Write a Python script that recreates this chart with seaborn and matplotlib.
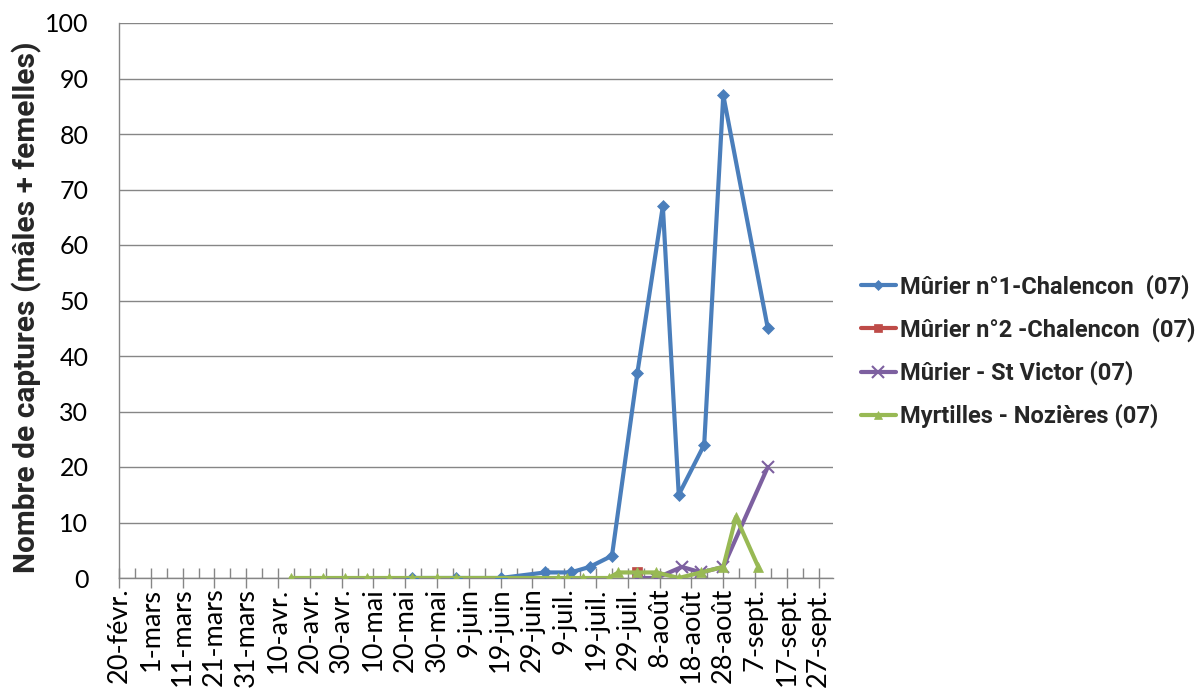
import matplotlib
matplotlib.use("Agg")
import matplotlib.pyplot as plt
import seaborn as sns
import pandas as pd
from matplotlib.lines import Line2D

# ---- data ----
series_names = [
    "Mûrier n°1-Chalencon  (07)",
    "Mûrier n°2 -Chalencon  (07)",
    "Mûrier - St Victor (07)",
    "Myrtilles - Nozières (07)",
]

murier1_dates = ["2016-05-22", "2016-06-05", "2016-06-19", "2016-07-03", "2016-07-11",
                 "2016-07-17", "2016-07-24", "2016-08-01", "2016-08-09", "2016-08-14",
                 "2016-08-22", "2016-08-28", "2016-09-11"]
murier1_values = [0, 0, 0, 1, 1, 2, 4, 37, 67, 15, 24, 87, 45]

murier2_dates = ["2016-08-01"]
murier2_values = [1]

stvictor_dates = ["2016-08-01", "2016-08-07", "2016-08-15", "2016-08-21", "2016-08-28",
                  "2016-09-11"]
stvictor_values = [0, 0, 2, 1, 2, 20]

myrtilles_dates = ["2016-04-14", "2016-04-24", "2016-05-01", "2016-05-08", "2016-05-15",
                   "2016-05-22", "2016-05-30", "2016-06-05", "2016-07-07", "2016-07-10",
                   "2016-07-15", "2016-07-23", "2016-07-26", "2016-08-01", "2016-08-07",
                   "2016-08-14", "2016-08-21", "2016-08-28", "2016-09-01", "2016-09-08"]
myrtilles_values = [0, 0, 0, 0, 0, 0, 0, 0, 0, 0, 0, 0, 1, 1, 1, 0, 1, 2, 11, 2]

x_tick_labels = ["20-févr.", "1-mars", "11-mars", "21-mars", "31-mars", "10-avr.",
                 "20-avr.", "30-avr.", "10-mai", "20-mai", "30-mai", "9-juin",
                 "19-juin", "29-juin", "9-juil.", "19-juil.", "29-juil.", "8-août",
                 "18-août", "28-août", "7-sept.", "17-sept.", "27-sept."]
y_ticks = [0, 10, 20, 30, 40, 50, 60, 70, 80, 90, 100]
y_label = "Nombre de captures (mâles + femelles)"

colors = ["#4A7EBB", "#BE4B48", "#7D60A0", "#98B954"]
markers = ["D", "s", "x", "^"]
marker_sizes = [6, 7, 9, 7]

# ---- build ----
sns.set_theme(style="white")
plt.rcParams["font.family"] = ["Lato", "DejaVu Sans"]
bold_family = ["Roboto", "DejaVu Sans"]

fig = plt.figure(figsize=(11.99, 6.97), dpi=100)
ax = fig.add_axes([119 / 1199, (697 - 578) / 697, (833 - 119) / 1199, (578 - 23) / 697])

all_series = [
    (murier1_dates, murier1_values),
    (murier2_dates, murier2_values),
    (stvictor_dates, stvictor_values),
    (myrtilles_dates, myrtilles_values),
]

handles = []
for (dates, vals), name, col, mk, ms in zip(all_series, series_names, colors, markers, marker_sizes):
    df = pd.DataFrame({"date": pd.to_datetime(dates), "value": vals})
    sns.lineplot(data=df, x="date", y="value", ax=ax, color=col, linewidth=3,
                 marker=mk, markersize=ms, markeredgecolor=col,
                 markeredgewidth=1.5 if mk == "x" else 0.5, zorder=3)
    handles.append(Line2D([0], [0], color=col, linewidth=3, marker=mk,
                          markersize=ms - 1, markeredgecolor=col,
                          markeredgewidth=1.5 if mk == "x" else 0.5))

start = pd.Timestamp("2016-02-20")
major = pd.date_range(start, periods=len(x_tick_labels), freq="10D")
minor = pd.date_range(start + pd.Timedelta(days=5), periods=len(x_tick_labels) - 1, freq="10D")

ax.set_xlim(start, start + pd.Timedelta(days=224.5))
ax.set_ylim(0, 100)
ax.set_xticks(major)
ax.set_xticklabels(x_tick_labels, rotation=90, fontsize=19.5, va="top", ha="center")
ax.set_xticks(minor, minor=True)
ax.set_yticks(y_ticks)
ax.set_yticklabels([str(v) for v in y_ticks], fontsize=18)

ax.grid(axis="y", color="#868686", linewidth=1)
ax.grid(axis="x", visible=False)
ax.set_axisbelow(True)

for s in ["top", "right"]:
    ax.spines[s].set_visible(False)
for s in ["left", "bottom"]:
    ax.spines[s].set_color("#868686")
    ax.spines[s].set_linewidth(1)

ax.tick_params(axis="x", which="major", direction="inout", length=14, width=1,
               color="#868686", pad=0, labelcolor="black", bottom=True)
ax.tick_params(axis="x", which="minor", direction="in", length=7, width=1,
               color="#868686", bottom=True)
ax.tick_params(axis="y", length=0, pad=22, labelcolor="black")

ax.set_xlabel("")
ax.set_ylabel(y_label, fontsize=21.5, fontweight="bold", family=bold_family)
ax.yaxis.set_label_coords(-0.108, 0.487)

fig.legend(handles, series_names, loc="center left", bbox_to_anchor=(0.7, 0.496),
           frameon=False, prop={"weight": "bold", "size": 17, "family": bold_family},
           handlelength=1.5, handletextpad=0.15, labelspacing=0.8)

fig.savefig("out.png", dpi=100)
